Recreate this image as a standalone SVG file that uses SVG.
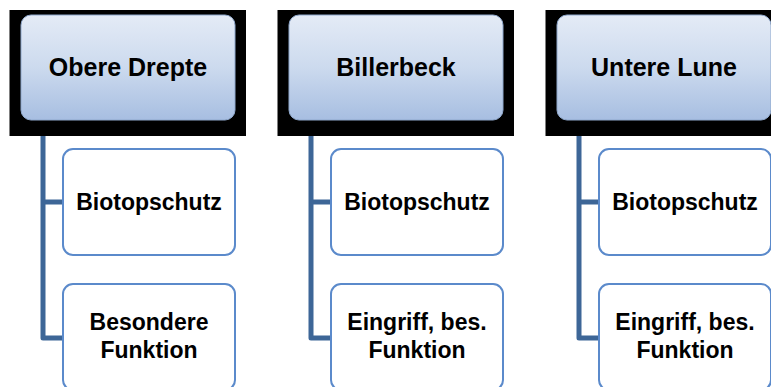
<svg xmlns="http://www.w3.org/2000/svg" width="771" height="387" viewBox="0 0 771 387">
<defs>
<linearGradient id="g" x1="0" y1="0" x2="0" y2="1">
<stop offset="0" stop-color="#E4EBF6"/>
<stop offset="0.5" stop-color="#CCDAEE"/>
<stop offset="1" stop-color="#A7BEE1"/>
</linearGradient>
<style>
.bg{fill:#000}
.top{fill:url(#g);stroke:#8FA8CC;stroke-width:1}
.child{fill:#fff;stroke:#5B8ACB;stroke-width:2}
.conn{fill:none;stroke:#3D6697;stroke-width:5;stroke-linejoin:round}
text{font-family:"Liberation Sans",Arial,sans-serif;font-weight:bold;fill:#000;text-anchor:middle}
.t1{font-size:25px}
.t2{font-size:23px}
</style>
</defs>
<rect width="771" height="387" fill="#fff"/>
<g id="connectors">
<path class="conn" d="M43,120 V338 H63 M43,202 H63"/>
<path class="conn" d="M311,120 V338 H331 M311,202 H331"/>
<path class="conn" d="M579,120 V338 H599 M579,202 H599"/>
</g>
<g id="col1">
<g id="obere-drepte">
<rect class="bg" x="9.5" y="10" width="236.5" height="126"/>
<rect class="top" x="21" y="15" width="214" height="105" rx="10"/>
<text class="t1" x="128" y="76">Obere Drepte</text>
</g>
<g id="od-biotop">
<rect class="child" x="63" y="149" width="172" height="106" rx="10"/>
<text class="t2" x="149" y="210">Biotopschutz</text>
</g>
<g id="od-funktion">
<rect class="child" x="63" y="284" width="172" height="106" rx="10"/>
<text class="t2" x="149" y="330">Besondere</text>
<text class="t2" x="149" y="358">Funktion</text>
</g>
</g>
<g id="col2">
<g id="billerbeck">
<rect class="bg" x="277.5" y="10" width="236.5" height="126"/>
<rect class="top" x="289" y="15" width="214" height="105" rx="10"/>
<text class="t1" x="396" y="76">Billerbeck</text>
</g>
<g id="bb-biotop">
<rect class="child" x="331" y="149" width="172" height="106" rx="10"/>
<text class="t2" x="417" y="210">Biotopschutz</text>
</g>
<g id="bb-funktion">
<rect class="child" x="331" y="284" width="172" height="106" rx="10"/>
<text class="t2" x="417" y="330">Eingriff, bes.</text>
<text class="t2" x="417" y="358">Funktion</text>
</g>
</g>
<g id="col3">
<g id="untere-lune">
<rect class="bg" x="545.5" y="10" width="236.5" height="126"/>
<rect class="top" x="557" y="15" width="214" height="105" rx="10"/>
<text class="t1" x="664" y="76">Untere Lune</text>
</g>
<g id="ul-biotop">
<rect class="child" x="599" y="149" width="172" height="106" rx="10"/>
<text class="t2" x="685" y="210">Biotopschutz</text>
</g>
<g id="ul-funktion">
<rect class="child" x="599" y="284" width="172" height="106" rx="10"/>
<text class="t2" x="685" y="330">Eingriff, bes.</text>
<text class="t2" x="685" y="358">Funktion</text>
</g>
</g>
</svg>
